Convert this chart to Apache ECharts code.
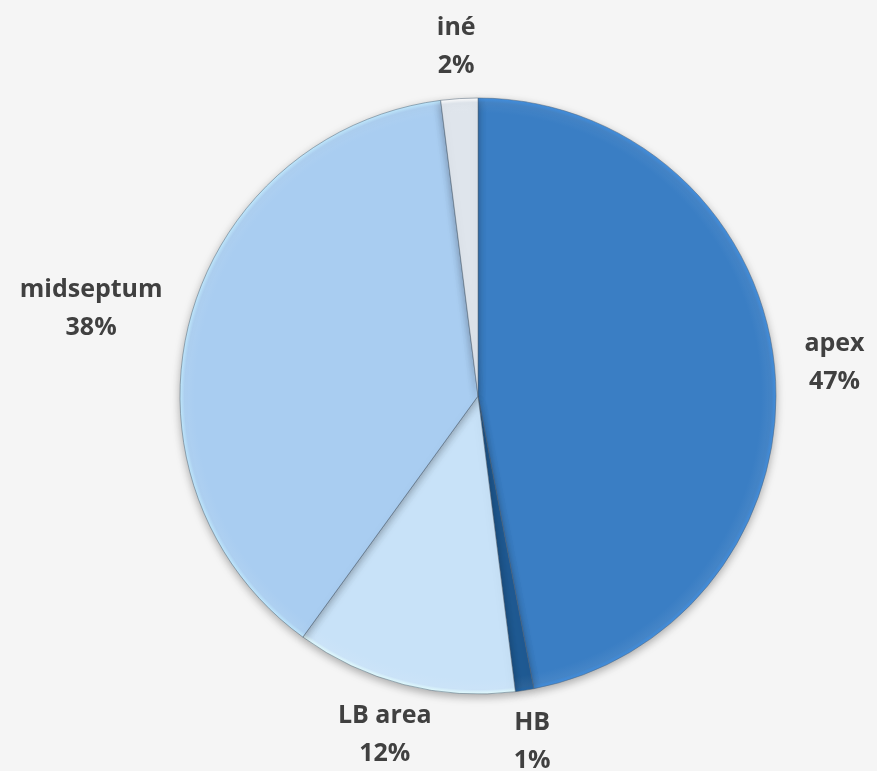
<!DOCTYPE html>
<html>
<head>
<meta charset="utf-8">
<script src="https://cdn.jsdelivr.net/npm/echarts@6/dist/echarts.min.js"></script>
<style>
  html, body { margin: 0; padding: 0; background: #f5f5f5; }
  #chart { width: 877px; height: 771px; }
</style>
</head>
<body>
<div id="chart"></div>
<script>
// slice names and shares, clockwise from 12 o'clock
const categories = ['apex', 'HB', 'LB area', 'midseptum', 'iné'];
const values = [47, 1, 12, 38, 2];
const colors = ['#3a7ec4', '#1f5a93', '#c8e2f8', '#a9cdf1', '#dfe5ec'];

const cx = 478, cy = 396, radius = 298;
const chart = echarts.init(document.getElementById('chart'));

// bevel-like look: flat fill with a slightly darker rim at the edge
function sliceFill(c) {
  return {
    type: 'radial', x: cx, y: cy, r: radius, global: true,
    colorStops: [
      { offset: 0, color: c },
      { offset: 0.95, color: c },
      { offset: 0.985, color: echarts.color.lift(c, 0.06) },
      { offset: 1, color: echarts.color.lift(c, -0.15) }
    ]
  };
}

const total = values.reduce((a, b) => a + b, 0);

// put each label just outside the slice middle, centred on its text block
function placeLabel(params) {
  let before = 0;
  for (let i = 0; i < params.dataIndex; i++) before += values[i];
  const mid = (before + values[params.dataIndex] / 2) / total * Math.PI * 2;
  const dx = Math.sin(mid), dy = -Math.cos(mid);
  const w = params.labelRect.width, h = params.labelRect.height;
  return {
    x: cx + (radius + 30) * dx + dx * w / 2,
    y: cy + (radius + 14) * dy + dy * h / 2,
    align: 'center',
    verticalAlign: 'middle'
  };
}

const option = {
  backgroundColor: '#f5f5f5',
  animation: false,
  series: [
    {
      type: 'pie',
      center: [cx, cy],
      radius: radius,
      startAngle: 90,
      clockwise: true,
      data: categories.map((name, i) => ({
        name: name,
        value: values[i],
        itemStyle: { color: sliceFill(colors[i]) }
      })),
      itemStyle: {
        borderColor: 'rgba(80,100,120,0.5)',
        borderWidth: 1,
        shadowBlur: 8,
        shadowOffsetY: 3,
        shadowColor: 'rgba(0,0,0,0.3)'
      },
      label: {
        show: true,
        position: 'outside',
        alignTo: 'none',
        overflow: 'none',
        formatter: '{b}\n{d}%',
        fontFamily: 'Open Sans',
        fontWeight: 'bold',
        fontSize: 25,
        lineHeight: 38,
        color: '#404040'
      },
      labelLine: { show: false },
      labelLayout: placeLabel
    }
  ]
};

chart.setOption(option);
window.addEventListener('resize', () => chart.resize());
</script>
</body>
</html>
